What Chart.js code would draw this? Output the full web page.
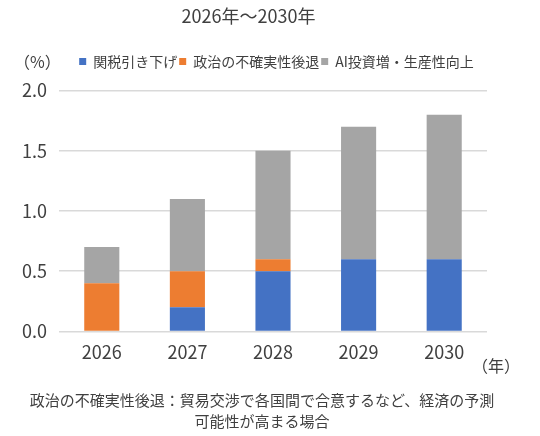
<!DOCTYPE html>
<html lang="ja">
<head>
<meta charset="UTF-8">
<title>2026年～2030年</title>
<script src="https://cdn.jsdelivr.net/npm/chart.js"></script>
<style>
  html, body { margin: 0; padding: 0; background: #fff; }
  #wrap { width: 540px; height: 436px; position: relative; }
</style>
</head>
<body>
<div id="wrap"><canvas id="chart"></canvas></div>
<script>
// data
const years = ['2026', '2027', '2028', '2029', '2030'];
const tariffCut = [0, 0.2, 0.5, 0.6, 0.6];
const politicalCertainty = [0.4, 0.3, 0.1, 0, 0];
const aiProductivity = [0.3, 0.6, 0.9, 1.1, 1.2];
const seriesNames = ['関税引き下げ', '政治の不確実性後退', 'AI投資増・生産性向上'];
const yTicks = [0, 0.5, 1.0, 1.5, 2.0];
const noteLines = ['政治の不確実性後退：貿易交渉で各国間で合意するなど、経済の予測', '可能性が高まる場合'];

const FONT = '"Noto Sans CJK JP", "Noto Sans", sans-serif';
const TEXT = '#404040';

// extra labels: units and footnote
const extraText = {
  id: 'extraText',
  beforeInit(chart) {
    // leave a gap under the legend like the original
    const fit = chart.legend.fit;
    chart.legend.fit = function () {
      fit.call(this);
      this.height += 12;
    };
  },
  afterLayout(chart) {
    // legend sits a bit right of centre in the original
    chart.legend.left += 28;
    chart.legend.right += 28;
  },
  afterDraw(chart) {
    const ctx = chart.ctx;
    ctx.save();
    ctx.fillStyle = TEXT;
    ctx.font = '16px ' + FONT;
    ctx.textBaseline = 'middle';
    ctx.textAlign = 'left';
    ctx.fillText('（%）', 14, 62);
    ctx.fillText('（年）', 472, 366);
    ctx.textAlign = 'center';
    ctx.font = '15px ' + FONT;
    ctx.fillText(noteLines[0], 262, 400);
    ctx.fillText(noteLines[1], 262, 421);
    ctx.restore();
  }
};

new Chart(document.getElementById('chart'), {
  type: 'bar',
  data: {
    labels: years,
    datasets: [
      { label: seriesNames[0], data: tariffCut, backgroundColor: '#4472c4' },
      { label: seriesNames[1], data: politicalCertainty, backgroundColor: '#ed7d31' },
      { label: seriesNames[2], data: aiProductivity, backgroundColor: '#a5a5a5' }
    ]
  },
  options: {
    responsive: true,
    maintainAspectRatio: false,
    animation: false,
    layout: { padding: { left: 10, right: 53, top: 2, bottom: 71 } },
    datasets: { bar: { barPercentage: 0.41, categoryPercentage: 1.0 } },
    plugins: {
      title: {
        display: true,
        text: '2026年～2030年',
        color: TEXT,
        font: { family: FONT, size: 18, weight: 'normal' },
        padding: { top: 3, bottom: 26 }
      },
      legend: {
        display: true,
        position: 'top',
        labels: {
          color: TEXT,
          font: { family: FONT, size: 14 },
          boxWidth: 7,
          boxHeight: 7,
          padding: 2
        }
      },
      tooltip: { enabled: false }
    },
    scales: {
      x: {
        stacked: true,
        grid: { display: false },
        border: { display: false },
        ticks: { color: TEXT, font: { family: FONT, size: 18 }, padding: 2 }
      },
      y: {
        stacked: true,
        min: 0,
        max: 2.0,
        afterBuildTicks(axis) { axis.ticks = yTicks.map(v => ({ value: v })); },
        grid: { color: '#d9d9d9', drawTicks: false, lineWidth: 1.5 },
        border: { display: false },
        ticks: {
          color: TEXT,
          font: { family: FONT, size: 18 },
          padding: 12,
          callback: v => v.toFixed(1)
        }
      }
    }
  },
  plugins: [extraText]
});
</script>
</body>
</html>
